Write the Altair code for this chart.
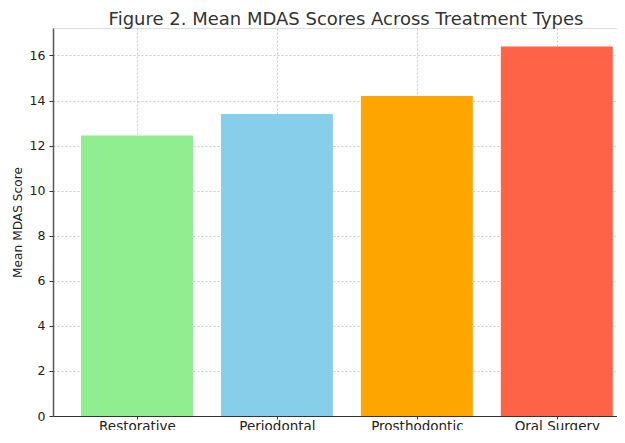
import altair as alt
import pandas as pd

categories = ["Restorative", "Periodontal", "Prosthodontic", "Oral Surgery"]
means = [12.45, 13.4, 14.2, 16.4]
colors = ["#90EE90", "#87CEEB", "#FFA500", "#FF6347"]
y_ticks = [0, 2, 4, 6, 8, 10, 12, 14, 16]

df = pd.DataFrame({
    "idx": list(range(len(categories))),
    "category": categories,
    "mean": means,
    "color": colors,
})

label_expr = "[" + ",".join(f"'{c}'" for c in categories) + "][datum.value]"

FONT = "DejaVu Sans"

bars = alt.Chart(df).transform_calculate(
    x0="datum.idx - 0.4", x1="datum.idx + 0.4"
).mark_bar(stroke=None).encode(
    x=alt.X("x0:Q",
            scale=alt.Scale(domain=[-0.6, 3.43], nice=False, zero=False),
            axis=alt.Axis(values=[0, 1, 2, 3], labelExpr=label_expr, title=None,
                          grid=True, gridDash=[2, 2], gridColor="#c8c8c8",
                          labelFontSize=13.5, labelColor="#222", labelFont=FONT,
                          domainColor="#333", domainWidth=1.2, tickColor="#333",
                          tickSize=3, labelPadding=0, labelFlush=False)),
    x2="x1:Q",
    y=alt.Y("mean:Q",
            scale=alt.Scale(domain=[0, 17.22], nice=False),
            axis=alt.Axis(values=y_ticks, title="Mean MDAS Score",
                          titleFont=FONT, titleFontSize=12.2, titleFontWeight="normal",
                          titleColor="#222", titlePadding=5,
                          grid=True, gridDash=[2, 2], gridColor="#c8c8c8",
                          labelFontSize=12.5, labelColor="#222", labelFont=FONT,
                          domainColor="#555", domainWidth=1.5, tickColor="#333",
                          tickSize=4, labelPadding=4)),
    y2=alt.datum(0),
    color=alt.Color("color:N", scale=None),
)

chart = bars.properties(
    width=564,
    height=388,
    title=alt.TitleParams("Figure 2. Mean MDAS Scores Across Treatment Types",
                          font=FONT, fontSize=18, fontWeight="normal",
                          color="#333", anchor="middle", dx=11, offset=-1),
    autosize=alt.AutoSizeParams(type="none"),
    padding={"left": 45, "top": 20, "right": 0, "bottom": 14},
).configure_view(stroke=None).configure(background="white")

chart.save("out.html", embed_options={"renderer": "svg", "actions": False})
